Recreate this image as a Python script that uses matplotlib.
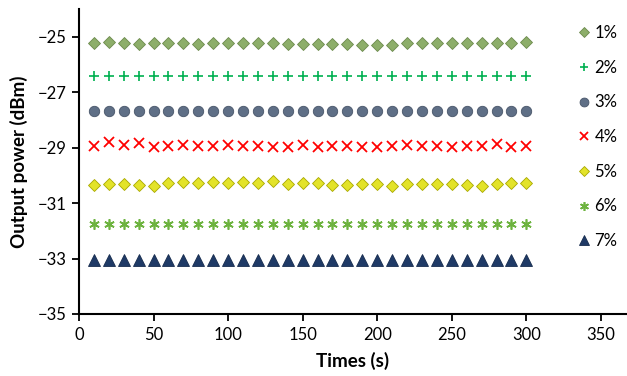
import matplotlib
matplotlib.use("Agg")
import matplotlib.pyplot as plt
import numpy as np

times = [10, 20, 30, 40, 50, 60, 70, 80, 90, 100, 110, 120, 130, 140, 150,
         160, 170, 180, 190, 200, 210, 220, 230, 240, 250, 260, 270, 280, 290, 300]

p1 = [-25.22, -25.20, -25.21, -25.25, -25.23, -25.23, -25.23, -25.25, -25.23, -25.23,
      -25.23, -25.23, -25.23, -25.25, -25.25, -25.26, -25.27, -25.28, -25.29, -25.29,
      -25.31, -25.24, -25.22, -25.24, -25.22, -25.22, -25.22, -25.22, -25.22, -25.20]
p2 = [-26.43] * 30
p3 = [-27.67, -27.67, -27.67, -27.67, -27.67, -27.67, -27.67, -27.67, -27.67, -27.67,
      -27.67, -27.67, -27.67, -27.67, -27.67, -27.67, -27.68, -27.69, -27.68, -27.68,
      -27.67, -27.67, -27.67, -27.67, -27.67, -27.67, -27.67, -27.67, -27.67, -27.67]
p4 = [-28.95, -28.79, -28.89, -28.85, -28.97, -28.95, -28.89, -28.95, -28.95, -28.89,
      -28.93, -28.95, -28.97, -28.97, -28.89, -28.97, -28.95, -28.93, -28.97, -28.97,
      -28.95, -28.90, -28.95, -28.93, -28.97, -28.93, -28.95, -28.87, -28.97, -28.95]
p5 = [-30.36, -30.32, -30.32, -30.36, -30.40, -30.28, -30.25, -30.28, -30.25, -30.28,
      -30.25, -30.28, -30.20, -30.30, -30.28, -30.28, -30.36, -30.36, -30.30, -30.30,
      -30.40, -30.30, -30.32, -30.32, -30.30, -30.36, -30.40, -30.30, -30.28, -30.28]
p6 = [-31.76] * 30
p7 = [-33.06] * 30

labels = ["1%", "2%", "3%", "4%", "5%", "6%", "7%"]
series = [p1, p2, p3, p4, p5, p6, p7]

styles = [
    dict(marker="D", ms=6.5, mfc="#8DAE6A", mec="#6B8A4C", mew=0.6, ls="none"),
    dict(marker="+", ms=7.5, mec="#00B050", mew=1.2, ls="none"),
    dict(marker="o", ms=7.5, mfc="#5F6F86", mec="#475468", mew=0.6, ls="none"),
    dict(marker="x", ms=6.5, mec="#FF0000", mew=1.3, ls="none"),
    dict(marker="D", ms=6.5, mfc="#E3E32A", mec="#A8A800", mew=0.6, ls="none"),
    dict(marker=(6, 2, 0), ms=7.5, mec="#6DB33F", mew=1.2, ls="none"),
    dict(marker="^", ms=8, mfc="#1F3A66", mec="#172C4E", mew=0.6, ls="none"),
]

fig = plt.figure(figsize=(6.27, 3.76), dpi=100)
ax = fig.add_axes([79/627, 1 - 314/376, 1 - 79/627, (314 - 9)/376])

handles = []
for y, lab, st in zip(series, labels, styles):
    h, = ax.plot(times, y, label=lab, **st)
    handles.append(h)

ax.set_xlim(0, 367.5)
ax.set_ylim(-35, -24)
ax.set_xticks([0, 50, 100, 150, 200, 250, 300, 350])
ax.set_yticks([-35, -33, -31, -29, -27, -25])
for s in ["top", "right"]:
    ax.spines[s].set_visible(False)
for s in ["left", "bottom"]:
    ax.spines[s].set_linewidth(1.5)
ax.tick_params(direction="out", length=5, width=1.3, labelsize=12, pad=4)
for t in ax.get_xticklabels() + ax.get_yticklabels():
    t.set_fontfamily("Lato")

ax.set_xlabel("Times (s)", fontsize=13.5, fontweight="bold", family="Lato", labelpad=7)
ax.set_ylabel("Output power (dBm)", fontsize=13.5, fontweight="bold", family="Lato", labelpad=7)

leg = fig.legend(handles=handles, labels=labels, loc="upper left",
                 bbox_to_anchor=(577/627, 1 - 25/376), frameon=False,
                 prop={"family": "Lato", "size": 12}, labelspacing=1.12,
                 handlelength=0.8, handletextpad=0.25, borderaxespad=0, borderpad=0,
                 markerscale=0.85)

fig.savefig("out.png", dpi=100)
